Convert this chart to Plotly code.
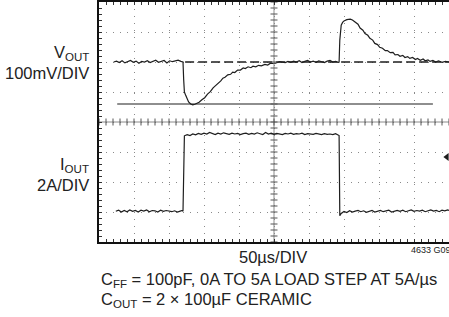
import numpy as np
import plotly.graph_objects as go

# ---------------- data ----------------
# time in microseconds (50us/div, 10 div), VOUT deviation in mV (100mV/div), IOUT in A (2A/div)
vout_t = [21, 25, 29, 33, 37, 41, 45, 49, 53, 57, 61, 65, 69, 73, 77, 81, 85, 89, 93, 97,
          101, 105, 109, 113, 117, 120,
          121, 122, 124, 126, 128, 131, 134, 137, 140, 143, 147, 151, 155, 159, 163, 166,
          170, 174, 177, 180, 184, 188, 191, 194, 198, 202, 206, 209, 213, 217, 220, 224,
          228, 232, 237, 241, 245, 251, 258, 266,
          270, 274, 278, 282, 286, 290, 294, 298, 302, 306, 310, 314, 318, 322, 326, 330,
          334, 338, 342, 343,
          344, 346, 348, 350, 354, 359, 362, 366, 370, 373, 377, 380, 384, 387, 391, 394,
          398, 401, 405, 409, 412, 416, 420, 423, 427, 430, 434, 437, 441, 444, 448, 452,
          455, 459, 463, 466, 470, 473, 477, 481, 485, 490, 495, 500]
vout_mv = [0, 3, -2, 4, -3, 2, 5, -1, 3, -4, 2, 0, 4, -2, 3, 6, -1, 2, 5, -3,
           4, 1, 3, 6, 2, 0,
           -60, -100, -112, -125, -133, -140, -143, -141, -138, -134, -126, -119, -107, -99, -86, -80,
           -69, -63, -54, -51, -43, -41, -34, -35, -27, -27, -20, -22, -16, -19, -14, -16,
           -11, -13, -8, -10, -4, -5, 1, -2,
           2, -1, 3, 0, 4, -2, 2, 5, 0, 3, -1, 4, 1, -2, 3, 5,
           0, 2, -1, 0,
           73, 123, 132, 137, 141, 143, 140, 133, 126, 113, 106, 95, 89, 79, 73, 62,
           58, 49, 46, 38, 38, 31, 32, 24, 25, 19, 22, 15, 18, 12, 15, 8,
           12, 6, 10, 4, 7, 2, 5, 0, 4, -1, 2, 0]

iout_t = [24, 28, 32, 36, 40, 44, 48, 52, 56, 60, 64, 68, 72, 76, 80, 84, 88, 92, 96, 100,
          104, 108, 112, 116, 119, 120,
          122, 126, 130, 134, 138, 142, 146, 150, 154, 158, 162, 166, 170, 174, 178, 182,
          186, 190, 194, 198, 202, 206, 210, 214, 218, 222, 226, 230, 234, 238, 242, 246,
          250, 254, 258, 262, 266, 270, 274, 278, 282, 286, 290, 294, 298, 302, 306, 310,
          314, 318, 322, 326, 330, 334, 338, 342, 343,
          344, 346, 350, 354, 358, 362, 366, 370, 374, 378, 382, 386, 390, 394, 398, 402,
          406, 410, 414, 418, 422, 426, 430, 434, 438, 442, 446, 450, 454, 458, 462, 466,
          470, 474, 478, 482, 486, 490, 494, 498, 500]
iout_a = [0.05, 0.12, 0.0, 0.1, 0.02, 0.14, 0.04, 0.1, 0.0, 0.12, 0.06, 0.14, 0.02, 0.1, 0.08, 0.0,
          0.12, 0.04, 0.1, 0.06, 0.02, 0.08, 0.0, 0.06, 0.1, 0.05,
          5.08, 5.16, 5.1, 5.2, 5.14, 5.24, 5.18, 5.26, 5.2, 5.3, 5.22, 5.16, 5.26, 5.2, 5.28, 5.22,
          5.18, 5.26, 5.2, 5.24, 5.16, 5.22, 5.26, 5.18, 5.24, 5.2, 5.28, 5.22, 5.16, 5.3, 5.2, 5.26,
          5.18, 5.24, 5.2, 5.16, 5.24, 5.2, 5.26, 5.18, 5.22, 5.2, 5.26, 5.16, 5.22, 5.2, 5.18, 5.24,
          5.2, 5.16, 5.22, 5.18, 5.2, 5.16, 5.22, 5.12, 5.1,
          -0.25, -0.1, 0.04, -0.04, 0.08, 0.0, 0.06, 0.1, 0.02, 0.08, -0.02, 0.06, 0.1, 0.0, 0.04, 0.1,
          0.02, 0.08, 0.12, 0.0, 0.06, 0.1, 0.04, 0.12, 0.02, 0.08, 0.14, 0.04, 0.1, 0.06, 0.12, 0.02,
          0.08, 0.14, 0.06, 0.1, 0.02, 0.12, 0.08, 0.14, 0.1]

ref_dash_t = [123, 500]       # dashed VOUT reference line
ref_dash_mv = [0, 0]
ref_solid_t = [26, 477]       # solid cursor line
ref_solid_mv = [-140, -140]
trig_t = [497]                # trigger marker
trig_a = [3.67]

# ---------------- figure ----------------
W, H = 449, 317
L, R, T, B = 99, 0, 2, 75
FONT = "Liberation Sans Narrow, Arial Narrow, Liberation Sans, Arial, sans-serif"
FS = 16.5
TRACE = "#1e1e1e"
GRID = "#8a8a8a"

XR = [0, 500]
YR = [-600, 200]      # VOUT axis, 100 mV/div, 8 div
Y2R = [-2, 14]        # IOUT axis, 2 A/div

fig = go.Figure()

fig.add_trace(go.Scatter(x=vout_t, y=vout_mv, mode="lines",
                         line=dict(color=TRACE, width=1.2), yaxis="y", hoverinfo="skip"))
fig.add_trace(go.Scatter(x=ref_dash_t, y=ref_dash_mv, mode="lines",
                         line=dict(color=TRACE, width=1.3, dash="9px,4px"), yaxis="y", hoverinfo="skip"))
fig.add_trace(go.Scatter(x=ref_solid_t, y=ref_solid_mv, mode="lines",
                         line=dict(color=TRACE, width=1.1), yaxis="y", hoverinfo="skip"))
fig.add_trace(go.Scatter(x=iout_t, y=iout_a, mode="lines",
                         line=dict(color=TRACE, width=1.2), yaxis="y2", hoverinfo="skip"))
fig.add_trace(go.Scatter(x=trig_t, y=trig_a, mode="markers",
                         marker=dict(symbol="triangle-left", size=7, color=TRACE),
                         yaxis="y2", hoverinfo="skip"))

# centre graticule lines with small ticks
cx = 250
cy = -200
tick_x = np.arange(0, 501, 10)
tick_y = np.arange(-600, 201, 20)
fig.add_trace(go.Scatter(x=[0, 500], y=[cy, cy], mode="lines",
                         line=dict(color=GRID, width=1), yaxis="y", hoverinfo="skip"))
fig.add_trace(go.Scatter(x=[cx, cx], y=YR, mode="lines",
                         line=dict(color=GRID, width=1), yaxis="y", hoverinfo="skip"))
fig.add_trace(go.Scatter(x=tick_x, y=[cy] * len(tick_x), mode="markers",
                         marker=dict(symbol="line-ns", size=5, line=dict(color="#555", width=1)),
                         yaxis="y", hoverinfo="skip"))
fig.add_trace(go.Scatter(x=[cx] * len(tick_y), y=tick_y, mode="markers",
                         marker=dict(symbol="line-ew", size=5, line=dict(color="#555", width=1)),
                         yaxis="y", hoverinfo="skip"))

fig.update_layout(
    width=W, height=H,
    margin=dict(l=L, r=R, t=T, b=B, pad=0),
    paper_bgcolor="white", plot_bgcolor="white",
    showlegend=False,
    font=dict(family=FONT, size=FS, color="#222"),
    xaxis=dict(range=XR, dtick=50, tick0=0, showgrid=True, gridcolor=GRID, gridwidth=1,
               griddash="1px,6px", zeroline=False, showticklabels=False,
               showline=True, linecolor="#111", linewidth=2, mirror="allticks",
               ticks="inside", ticklen=3, tickcolor="#333",
               minor=dict(dtick=10, tick0=0, ticks="inside", ticklen=3, tickcolor="#333", showgrid=False)),
    yaxis=dict(range=YR, dtick=100, tick0=-600, showgrid=True, gridcolor=GRID, gridwidth=1,
               griddash="1px,6px", zeroline=False, showticklabels=False,
               showline=True, linecolor="#111", linewidth=2,
               ticks="inside", ticklen=3, tickcolor="#333",
               minor=dict(dtick=20, tick0=-600, ticks="inside", ticklen=3, tickcolor="#333", showgrid=False)),
    yaxis2=dict(range=Y2R, overlaying="y", showgrid=False, zeroline=False,
                showticklabels=False, showline=False, ticks=""),
)

def px2paper(px, py):
    return (px - L) / (W - L - R), (H - B - py) / (H - T - B)

def label(text, px, py, xanchor="right", size=FS):
    x, y = px2paper(px, py)
    fig.add_annotation(text=text, x=x, y=y, xref="paper", yref="paper",
                       xanchor=xanchor, yanchor="middle", showarrow=False,
                       font=dict(family=FONT, size=size, color="#222"))

label("V<sub>OUT</sub>", 91, 53)
label("100mV/DIV", 91, 73)
label("I<sub>OUT</sub>", 91, 165)
label("2A/DIV", 91, 185)
label("50µs/DIV", 273, 257, xanchor="center")
label("4633 G09", 409, 250, xanchor="left", size=9)
label("C<sub>FF</sub> = 100pF, 0A TO 5A LOAD STEP AT 5A/µs", 99, 280, xanchor="left")
label("C<sub>OUT</sub> = 2 × 100µF CERAMIC", 99, 300, xanchor="left")

fig.write_html("out.html", config={"displayModeBar": False},
               post_script="document.body.style.margin='0';document.body.style.overflow='hidden';")
